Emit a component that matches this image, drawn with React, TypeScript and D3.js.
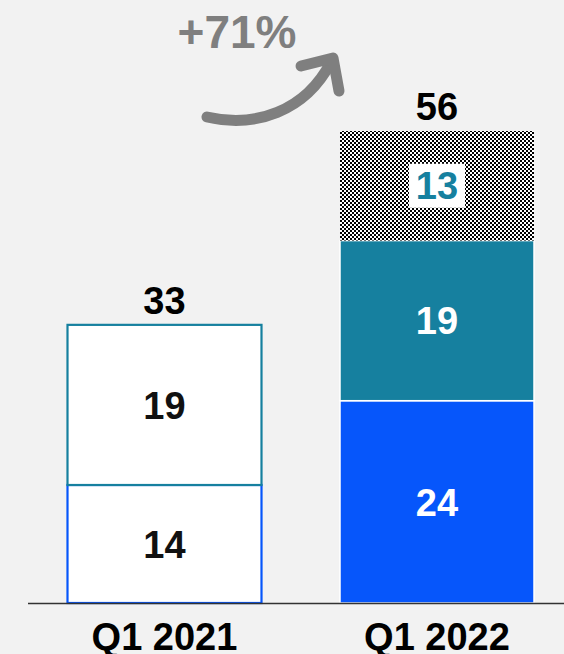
import React from "react";
import * as d3 from "d3";

const categories = ["Q1 2021", "Q1 2022"];
const seriesBase = [14, 24];
const seriesMid = [19, 19];
const seriesTop = [0, 13];
const growthLabel = "+71%";

const W = 564;
const H = 654;
const FONT = "'Liberation Sans', Arial, sans-serif";
const BLUE = "#0656fb";
const TEAL = "#16809f";
const GREY = "#7f7f7f";

export default function App() {
  React.useEffect(() => {
    document.body.style.margin = "0";
    document.body.style.background = "#f2f2f2";
  }, []);

  const stack = d3
    .stack<number>()
    .keys(["base", "mid", "top"])
    .value((i, key) =>
      key === "base" ? seriesBase[i] : key === "mid" ? seriesMid[i] : seriesTop[i]
    )(categories.map((_, i) => i));

  const totals = categories.map((_, i) => seriesBase[i] + seriesMid[i] + seriesTop[i]);
  const maxTotal = d3.max(totals) as number;

  const y = d3.scaleLinear().domain([0, maxTotal]).range([603, 131]);
  const x = d3.scalePoint<string>().domain(categories).range([164.5, 437]);
  const bw = 194;

  const labelValue = (v: number) => String(v);

  return (
    <svg width={W} height={H} style={{ display: "block", background: "#f2f2f2" }} fontFamily={FONT}>
      <defs>
        <pattern id="checker" width="4" height="4" patternUnits="userSpaceOnUse">
          <rect width="4" height="4" fill="#ffffff" />
          <rect width="2" height="2" fill="#000000" />
          <rect x="2" y="2" width="2" height="2" fill="#000000" />
        </pattern>
      </defs>
      <rect width={W} height={H} fill="#f2f2f2" />

      {categories.map((c, i) => {
        const cx = x(c) as number;
        const x0 = cx - bw / 2;
        const filled = i === 1;
        return (
          <g key={c}>
            {stack.map((s) => {
              const [a, b] = s[i];
              if (b - a <= 0) return null;
              const key = s.key;
              let fill = "#ffffff";
              let stroke = "#ffffff";
              let sw = 2;
              if (filled) {
                fill = key === "base" ? BLUE : key === "mid" ? TEAL : "url(#checker)";
                stroke = key === "top" ? "none" : "#ffffff";
                sw = 1.5;
              } else {
                stroke = key === "base" ? BLUE : TEAL;
                sw = 2.2;
              }
              const yt = y(b);
              const yb = y(a);
              const midY = (yt + yb) / 2;
              return (
                <g key={key}>
                  <rect
                    x={x0}
                    y={yt}
                    width={bw}
                    height={yb - yt}
                    fill={fill}
                    stroke={stroke}
                    strokeWidth={sw}
                  />
                  {key === "top" && filled && (
                    <rect x={cx - 28} y={midY - 22} width={56} height={44} fill="#ffffff" />
                  )}
                  <text
                    x={cx}
                    y={midY}
                    dy="0.36em"
                    textAnchor="middle"
                    fontSize={38}
                    fontWeight="bold"
                    fill={filled ? (key === "top" ? TEAL : "#ffffff") : "#111111"}
                  >
                    {labelValue(b - a)}
                  </text>
                </g>
              );
            })}
            <text
              x={cx}
              y={y(totals[i]) - 11}
              textAnchor="middle"
              fontSize={38}
              fontWeight="bold"
              fill="#000000"
            >
              {totals[i]}
            </text>
            <text x={cx} y={650} textAnchor="middle" fontSize={38} fontWeight="bold" fill="#000000">
              {c}
            </text>
          </g>
        );
      })}

      <line x1={28} x2={W} y1={603.5} y2={603.5} stroke="#333333" strokeWidth={1.6} />

      <text x={237} y={48} textAnchor="middle" fontSize={46} fontWeight="bold" fill={GREY}>
        {growthLabel}
      </text>
      <path
        d="M207,117 C255,128 305,112 331,62"
        fill="none"
        stroke={GREY}
        strokeWidth={11}
        strokeLinecap="round"
      />
      <path
        d="M301,66 L333,58 L339,91"
        fill="none"
        stroke={GREY}
        strokeWidth={11}
        strokeLinecap="round"
        strokeLinejoin="round"
      />
    </svg>
  );
}
